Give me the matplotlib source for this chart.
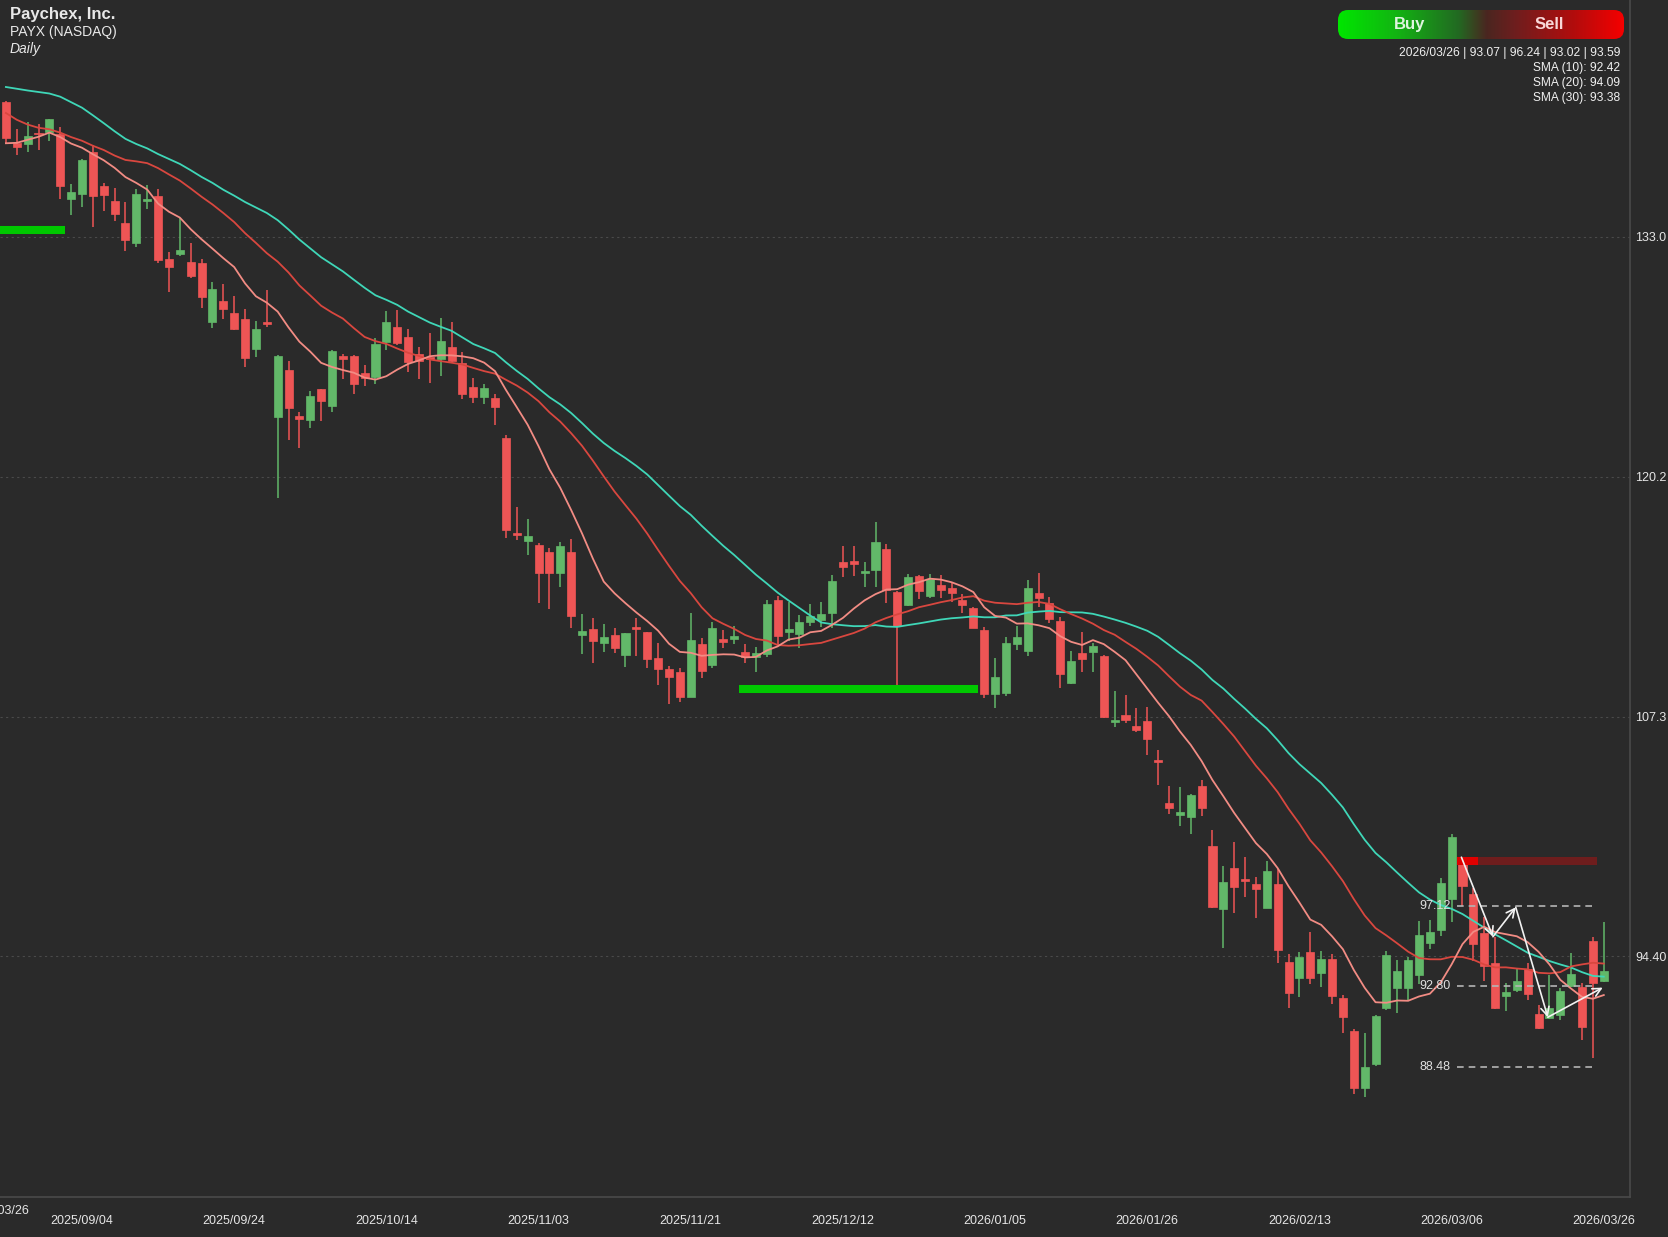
import matplotlib
matplotlib.use("Agg")
import matplotlib.pyplot as plt
from matplotlib.colors import LinearSegmentedColormap
from matplotlib.patches import FancyBboxPatch
import numpy as np
import pandas as pd

# daily candles, 2025/08/25 .. 2026/03/26 (bar index 0..147)
opens = [
    140.24, 138.04, 138.02, 138.61, 138.66, 138.52, 135.03, 135.34, 137.57, 135.77,
    134.96, 133.74, 132.69, 134.94, 135.19, 131.81, 132.10, 131.69, 131.63, 128.43,
    129.59, 128.91, 128.59, 127.02, 128.41, 123.33, 125.87, 123.40, 123.17, 124.83,
    123.96, 126.62, 126.62, 125.69, 125.48, 127.39, 128.16, 127.63, 126.73, 126.59,
    126.46, 127.09, 126.23, 124.98, 124.44, 124.39, 122.24, 117.12, 116.69, 116.46,
    116.08, 114.99, 116.08, 111.65, 111.95, 111.20, 111.65, 110.56, 112.06, 111.79,
    110.40, 109.82, 109.64, 108.34, 111.16, 110.02, 111.43, 111.41, 110.72, 110.48,
    110.63, 113.53, 111.79, 111.70, 112.34, 112.45, 112.81, 115.55, 115.62, 114.99,
    115.14, 116.26, 113.97, 113.26, 114.81, 113.76, 114.33, 114.15, 113.53, 113.08,
    111.92, 108.46, 108.55, 111.16, 110.81, 113.88, 113.35, 112.42, 109.05, 110.66,
    110.75, 110.52, 106.96, 107.35, 106.78, 107.05, 104.94, 102.61, 101.99, 101.86,
    103.56, 100.34, 96.92, 99.16, 98.50, 98.26, 97.01, 98.26, 94.11, 93.22,
    94.65, 93.52, 94.24, 92.14, 90.41, 87.31, 88.62, 91.64, 92.72, 92.68,
    93.40, 95.13, 95.81, 97.48, 99.34, 97.74, 95.63, 94.06, 92.29, 92.59,
    93.72, 91.29, 91.07, 91.25, 92.82, 92.77, 95.24, 93.07,
]
highs = [
    140.33, 138.79, 139.16, 139.06, 139.36, 138.90, 135.84, 137.21, 137.95, 135.89,
    135.62, 134.87, 135.59, 135.80, 135.60, 132.22, 134.01, 132.71, 131.81, 130.61,
    130.47, 129.86, 129.14, 128.50, 130.16, 126.68, 126.37, 123.62, 124.74, 124.87,
    126.95, 126.71, 126.68, 126.14, 127.57, 129.04, 129.09, 128.07, 127.09, 127.84,
    128.65, 128.43, 126.82, 125.42, 125.14, 124.57, 122.38, 118.50, 117.89, 116.57,
    116.30, 116.66, 116.78, 112.76, 112.54, 112.22, 112.01, 111.77, 112.54, 111.83,
    111.20, 110.00, 109.86, 112.81, 111.47, 112.36, 111.92, 112.13, 111.15, 111.02,
    113.53, 113.76, 113.44, 112.72, 113.29, 113.44, 114.87, 116.42, 116.42, 115.55,
    117.69, 116.51, 114.01, 114.90, 114.85, 114.92, 114.87, 114.42, 113.83, 113.13,
    112.09, 110.43, 111.52, 112.13, 114.60, 114.99, 113.71, 112.59, 110.79, 111.79,
    111.20, 110.57, 108.64, 108.43, 107.75, 107.80, 105.47, 103.56, 103.51, 103.11,
    103.86, 101.18, 99.25, 100.55, 99.71, 98.64, 99.52, 99.07, 94.51, 94.65,
    95.72, 94.70, 94.51, 92.32, 90.50, 90.27, 91.25, 94.70, 94.20, 94.38,
    96.30, 96.35, 98.59, 100.95, 99.66, 98.05, 96.53, 95.45, 92.95, 93.70,
    94.02, 91.79, 93.40, 92.68, 94.56, 92.95, 95.42, 96.24,
]
lows = [
    138.07, 137.41, 137.55, 137.68, 138.18, 135.05, 134.17, 134.64, 133.56, 134.42,
    133.89, 132.28, 132.49, 134.51, 131.63, 130.08, 132.01, 130.79, 129.18, 128.11,
    128.63, 128.04, 126.01, 126.59, 128.16, 119.00, 122.11, 121.70, 122.74, 123.13,
    123.63, 125.37, 124.57, 125.03, 125.10, 126.94, 127.21, 125.78, 125.37, 125.16,
    125.57, 126.32, 124.32, 124.08, 124.03, 122.90, 116.87, 116.75, 115.94, 113.35,
    113.04, 114.21, 112.01, 110.61, 110.13, 110.75, 110.70, 109.91, 110.52, 109.89,
    108.96, 107.93, 108.03, 108.30, 109.32, 109.89, 110.93, 111.16, 110.13, 109.64,
    110.48, 111.11, 111.33, 110.97, 112.13, 112.09, 112.04, 114.78, 114.81, 114.21,
    114.21, 113.35, 108.96, 113.20, 113.58, 113.65, 113.65, 113.40, 112.81, 112.01,
    108.25, 107.71, 108.37, 110.84, 110.54, 113.17, 112.27, 108.82, 109.02, 109.68,
    109.64, 107.17, 106.73, 106.91, 106.42, 105.21, 103.60, 102.02, 101.41, 100.97,
    101.93, 97.01, 94.83, 96.71, 97.57, 96.44, 96.98, 94.06, 91.64, 92.23,
    92.91, 92.77, 91.82, 90.27, 87.01, 86.83, 88.51, 91.52, 91.34, 92.06,
    92.90, 94.78, 95.49, 96.26, 97.10, 94.15, 93.08, 91.55, 91.46, 92.47,
    92.06, 90.50, 91.04, 90.98, 92.77, 89.91, 88.96, 93.02,
]
closes = [
    138.31, 137.82, 138.45, 138.52, 139.33, 135.77, 135.44, 137.16, 135.23, 135.25,
    134.23, 132.87, 135.30, 134.98, 131.77, 131.42, 132.31, 130.92, 129.81, 130.24,
    129.13, 128.09, 126.53, 128.05, 128.34, 126.64, 123.81, 123.26, 124.48, 124.21,
    126.91, 126.44, 125.10, 125.42, 127.27, 128.47, 127.34, 126.32, 126.37, 126.46,
    127.43, 126.37, 124.58, 124.41, 124.89, 123.90, 117.28, 117.03, 116.96, 114.99,
    114.99, 116.41, 112.69, 111.86, 111.34, 111.56, 110.97, 111.74, 111.99, 110.38,
    109.84, 109.41, 108.30, 111.38, 109.73, 112.04, 111.29, 111.61, 110.45, 110.66,
    113.29, 111.61, 111.95, 112.36, 112.67, 112.76, 114.55, 115.32, 115.46, 115.10,
    116.62, 114.06, 112.15, 114.78, 114.01, 114.65, 114.06, 113.88, 113.26, 112.04,
    108.46, 109.41, 111.24, 111.56, 114.15, 113.61, 112.51, 109.56, 110.25, 110.36,
    111.06, 107.26, 107.09, 107.09, 106.55, 106.07, 104.81, 102.34, 102.13, 103.06,
    102.38, 97.07, 98.41, 98.10, 98.44, 97.99, 98.98, 94.74, 92.41, 94.35,
    93.22, 94.24, 92.27, 91.16, 87.31, 88.44, 91.20, 94.47, 93.61, 94.20,
    95.54, 95.72, 98.35, 100.82, 98.19, 95.04, 93.90, 91.61, 92.50, 93.07,
    92.36, 90.54, 91.61, 92.54, 93.45, 90.59, 92.95, 93.59,
]
# closes before the visible window, only used to warm up the moving averages
prior_closes = [
    140.6, 141.3, 140.9, 141.8, 140.9, 144.2, 146.1, 147.5, 147.9, 147.3,
    145.1, 143.6, 142.0, 140.9, 139.4, 140.2, 141.1, 140.6, 139.8, 140.2,
    137.6, 136.8, 136.9, 137.1, 138.2, 138.9, 139.4, 138.7, 138.5,
]

tick_idx = [7, 21, 35, 49, 63, 77, 91, 105, 119, 133, 147]
tick_labels = ["2025/09/04", "2025/09/24", "2025/10/14", "2025/11/03", "2025/11/21",
               "2025/12/12", "2026/01/05", "2026/01/26", "2026/02/13", "2026/03/06",
               "2026/03/26"]
ytick_vals = [94.40, 107.27, 120.14, 133.01]
ytick_labels = ["94.40", "107.3", "120.2", "133.0"]

# support zones (start idx, end idx, price)
support_zones = [(-0.6, 5.4, 133.39), (67.4, 89.4, 108.75)]
resist_price = 99.52
level_prices = [97.12, 92.80, 88.48]
wave_idx = [133.9, 136.8, 138.9, 141.85, 146.9]
wave_px = [99.72, 95.45, 97.03, 91.13, 92.72]

info_lines = ["2026/03/26 | 93.07 | 96.24 | 93.02 | 93.59",
              "SMA (10): 92.42", "SMA (20): 94.09", "SMA (30): 93.38"]

BG = "#2a2a2a"
UP = "#62b869"
DOWN = "#ee5555"

all_close = pd.Series(prior_closes + closes)
n_pre = len(prior_closes)
sma10 = all_close.rolling(10).mean().values[n_pre:]
sma20 = all_close.rolling(20).mean().values[n_pre:]
sma30 = all_close.rolling(30).mean().values[n_pre:]

plt.rcParams["font.family"] = ["Liberation Sans", "DejaVu Sans"]

W, H = 1668, 1237
fig = plt.figure(figsize=(W / 100, H / 100), dpi=100, facecolor=BG)
ax = fig.add_axes([0, 40 / H, 1630 / W, 1 - 40 / H], facecolor=BG)

idx = np.arange(len(closes))
o = np.array(opens)
c = np.array(closes)
colors = [UP if cc >= oo else DOWN for oo, cc in zip(o, c)]

ax.vlines(idx, lows, highs, colors=colors, lw=1.1, zorder=2)
body_h = np.maximum(np.abs(c - o), 0.09)
ax.bar(idx, body_h, bottom=np.minimum(o, c), width=0.74, color=colors,
       edgecolor=colors, lw=0.5, zorder=3)

ax.plot(idx, sma30, color="#3fd7b8", lw=1.3, zorder=4)
ax.plot(idx, sma20, color="#d9473f", lw=1.3, zorder=4)
ax.plot(idx, sma10, color="#f28c84", lw=1.3, zorder=4)

for x0, x1, p in support_zones:
    ax.hlines(p, x0, x1, color="#00c800", lw=5.8, zorder=5)

ax.hlines(resist_price, 135.4, 146.4, color="#6e1d1d", lw=5.8, zorder=5)
ax.hlines(resist_price, 133.5, 135.4, color="#e00000", lw=5.8, zorder=5)

for p in level_prices:
    ax.hlines(p, 133.5, 146.4, color="#b5b5b5", lw=1.2, linestyles=(0, (4, 3)), zorder=5)
    ax.text(132.9, p, f"{p:.2f}", color="#e0e0e0", fontsize=9, ha="right", va="center", zorder=6)

for k in range(len(wave_idx) - 1):
    ax.annotate("", xy=(wave_idx[k + 1], wave_px[k + 1]), xytext=(wave_idx[k], wave_px[k]),
                arrowprops=dict(arrowstyle="->,head_length=0.6,head_width=0.3",
                                color="#f2f2f2", lw=1.2, shrinkA=0, shrinkB=0), zorder=7)

ax.set_xlim(-0.543, 149.41)
ax.set_ylim(81.48, 145.73)
for v in ytick_vals:
    ax.axhline(v, color="#4a4a4a", lw=0.8, linestyle=(0, (2, 3)), zorder=1)

ax.yaxis.tick_right()
ax.set_yticks(ytick_vals, ytick_labels)
ax.set_xticks(tick_idx, tick_labels)
ax.tick_params(axis="y", length=0, pad=4, labelsize=9, labelcolor="#e6e6e6")
ax.tick_params(axis="x", length=0, pad=13, labelsize=9, labelcolor="#e6e6e6")
for lab in ax.get_xticklabels():
    lab.set_family(["Liberation Sans Narrow", "Liberation Sans", "DejaVu Sans"])

for side in ["left", "top"]:
    ax.spines[side].set_visible(False)
for side in ["right", "bottom"]:
    ax.spines[side].set_color("#4a4a4a")
    ax.spines[side].set_linewidth(1.2)

# first date label sits half outside the left edge, as in the source chart
fig.text(-2 / W, 1 - 1211 / H, "2026/03/26", color="#e6e6e6", fontsize=9, ha="center",
         va="center", family=["Liberation Sans Narrow", "Liberation Sans", "DejaVu Sans"])

fig.text(10 / W, 1 - 14 / H, "Paychex, Inc.", color="#e8e8e8", fontsize=12, fontweight="bold",
         va="center")
fig.text(10 / W, 1 - 32 / H, "PAYX (NASDAQ)", color="#e8e8e8", fontsize=10, va="center")
fig.text(10 / W, 1 - 49 / H, "Daily", color="#e8e8e8", fontsize=10, style="italic", va="center")

for k, line in enumerate(info_lines):
    fig.text(1620 / W, 1 - (53 + 15 * k) / H, line, color="#f0f0f0", fontsize=8.65,
             ha="right", va="center")

# Buy / Sell gradient pill
pw, ph = 286, 29
bax = fig.add_axes([1338 / W, 1 - 39 / H, pw / W, ph / H])
bax.set_xlim(0, pw)
bax.set_ylim(0, ph)
bax.axis("off")
cmap = LinearSegmentedColormap.from_list(
    "bs", [(0.0, "#00e600"), (0.2, "#12b512"), (0.42, "#226a22"), (0.52, "#4a2620"),
           (0.62, "#6e1e1e"), (0.82, "#b00d0d"), (1.0, "#f50000")])
grad = np.linspace(0, 1, 256).reshape(1, -1)
im = bax.imshow(grad, cmap=cmap, extent=(0, pw, 0, ph), aspect="auto")
pill = FancyBboxPatch((0, 0), pw, ph, boxstyle="round,pad=0,rounding_size=10",
                      transform=bax.transData, facecolor="none", edgecolor="none")
bax.add_patch(pill)
im.set_clip_path(pill)
bax.text(72, ph / 2, "Buy", color="#dff5df", fontsize=12, fontweight="bold",
         ha="center", va="center")
bax.text(211, ph / 2, "Sell", color="#f8d8d8", fontsize=12, fontweight="bold",
         ha="center", va="center")

fig.savefig("out.png", dpi=100, facecolor=BG)
plt.close(fig)
